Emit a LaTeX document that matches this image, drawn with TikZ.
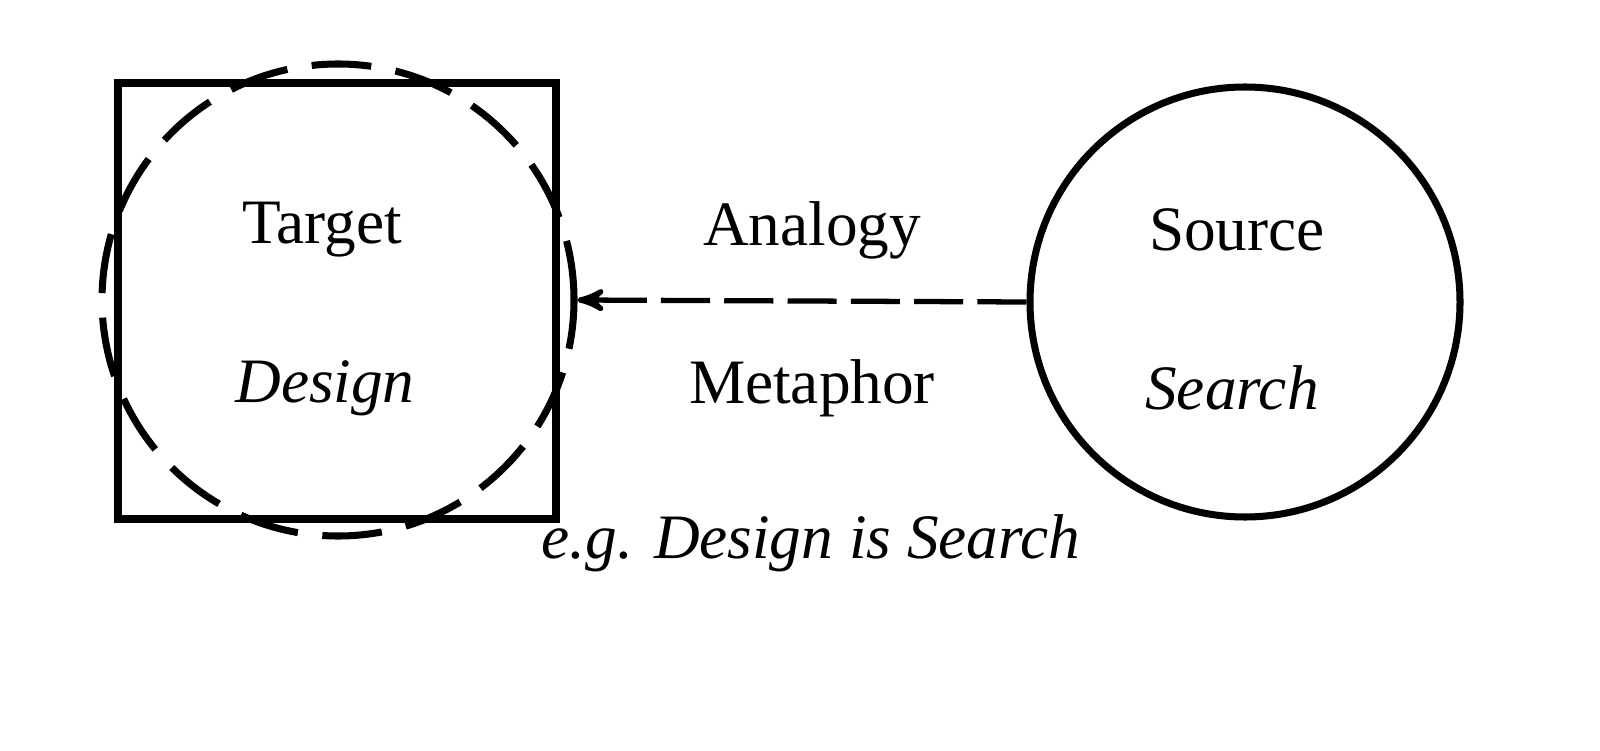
\documentclass[tikz,border=0pt]{standalone}
\usepackage{fontspec}
\setmainfont{Liberation Serif}
\usetikzlibrary{arrows}

\begin{document}
\begin{tikzpicture}
	[>=stealth',line width=2pt,
		label node/.style={font=\fontsize{18}{21}\selectfont},
		dash line/.style={dash pattern=on 17pt off 7pt}]
	\useasboundingbox (0,0) rectangle (16,-7.51);

	\node[draw,minimum width=4.38cm,minimum height=4.36cm,line width=2pt] (T) at (3.37,-3.01) {};
	\node[draw,circle,dash line,minimum size=4.72cm] (C) at (3.38,-3.00) {};
	\node[draw,circle,minimum size=4.3cm] (S) at (12.45,-3.02) {};

	\node[label node] (ta) at (3.22,-2.30) {Target};
	\node[label node] (td) at (3.25,-3.88) {\itshape Design};
	\node[label node] (an) at (8.12,-2.30) {Analogy};
	\node[label node] (me) at (8.12,-3.88) {Metaphor};
	\node[label node] (so) at (12.37,-2.30) {Source};
	\node[label node] (se) at (12.32,-3.88) {\itshape Search};
	\node[label node] (eg) at (8.11,-5.43) {\itshape e.g. Design is Search};

	\draw[->,line width=1.5pt,dash pattern=on 14pt off 4pt] (S.west) -- (C.east);
\end{tikzpicture}
\end{document}
